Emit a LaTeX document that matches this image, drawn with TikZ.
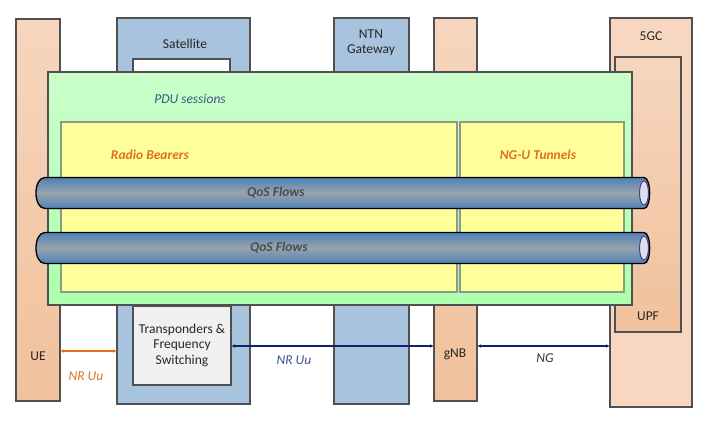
\documentclass[tikz,border=0pt]{standalone}
\usepackage{fontspec}
\setmainfont{Carlito}
\usetikzlibrary{arrows.meta,calc}
\definecolor{linegray}{HTML}{505050}
\definecolor{peachtop}{HTML}{F6D6BE}
\definecolor{peachbot}{HTML}{F0C19C}
\definecolor{peachlt}{HTML}{F7D7BF}
\definecolor{satblue}{HTML}{A7C3DD}
\definecolor{greentop}{HTML}{CBFFCB}
\definecolor{greenbot}{HTML}{ADFFAD}
\definecolor{yel}{HTML}{FFFF99}
\definecolor{yelline}{HTML}{8C9A8C}
\definecolor{pipeedge}{HTML}{4E82B8}
\definecolor{pipemid}{HTML}{98A3AC}
\definecolor{pipeopen}{HTML}{DCE0EE}
\definecolor{pipering}{HTML}{4A3C8C}
\definecolor{orangetxt}{HTML}{E0701E}
\definecolor{bluetxt}{HTML}{3C5488}
\definecolor{navy}{HTML}{0E2266}
\definecolor{transgray}{HTML}{F0F0F0}
\begin{document}
\begin{tikzpicture}[x=1pt,y=-1pt,
  box/.style={draw=linegray, line width=1.3pt, inner sep=0pt, anchor=north west, outer sep=0pt},
  lbl/.style={font=\fontsize{13.5}{15.5}\selectfont, text=black!85, align=center, inner sep=0pt},
  ital/.style={font=\fontsize{13.5}{15.5}\selectfont\itshape, inner sep=0pt},
  boldital/.style={font=\fontsize{13.5}{15.5}\selectfont\bfseries\itshape, inner sep=0pt},
  conn/.style={line width=1.3pt, {Latex[length=4pt,width=3.5pt]}-{Latex[length=4pt,width=3.5pt]}}
]
\useasboundingbox (0,0) rectangle (702,421);

% columns
\node[box, top color=peachtop, bottom color=peachbot, minimum width=44pt, minimum height=382pt] (ue) at (16,19) {};
\node[box, fill=satblue, minimum width=133pt, minimum height=386pt] (sat) at (117,18) {};
\node[box, fill=white, minimum width=97pt, minimum height=40pt] (satwin) at (133,59) {};
\node[box, fill=satblue, minimum width=75pt, minimum height=386pt] (ntn) at (334,18) {};
\node[box, top color=peachtop, bottom color=peachbot, minimum width=43pt, minimum height=383pt] (gnb) at (434,18) {};
\node[box, fill=peachlt, minimum width=82pt, minimum height=389pt] (fgc) at (610,18) {};
\node[box, top color=peachtop, bottom color=peachbot, minimum width=66pt, minimum height=275pt] (upf) at (615,57) {};

% PDU session box
\node[box, top color=greentop, bottom color=greenbot, minimum width=584pt, minimum height=233pt] (pdu) at (48,72) {};
\node[box, draw=yelline, fill=yel, line width=1.2pt, minimum width=396pt, minimum height=170pt] (rb) at (61,122) {};
\node[box, draw=yelline, fill=yel, line width=1.2pt, minimum width=164pt, minimum height=170pt] (ngu) at (460,122) {};

% transponder box
\node[box, fill=transgray, minimum width=98pt, minimum height=79pt] (trans) at (133,306) {};

% labels
\node[lbl] (satl) at (185,44) {Satellite};
\node[lbl] (ntnl) at (371,43) {NTN\\Gateway};
\node[lbl] (fgcl) at (651,36) {5GC};
\node[lbl] (uel) at (38,356) {UE};
\node[lbl] (gnbl) at (455,354) {gNB};
\node[lbl] (upfl) at (648,316) {UPF};
\node[lbl] (transl) at (182,345) {Transponders \&\\Frequency\\Switching};
\node[ital, text=bluetxt] (pdul) at (190,99) {PDU sessions};
\node[boldital, text=orangetxt] (rbl) at (150,155) {Radio Bearers};
\node[boldital, text=orangetxt] (ngul) at (538,155) {NG-U Tunnels};

% pipes
\foreach \y/\n/\lx in {193/qa/276, 248/qb/279}{
  \path[draw=black, line width=1.3pt, top color=pipeedge, bottom color=pipeedge, middle color=pipemid]
    (45,{\y-15.5}) -- (644,{\y-15.5})
    .. controls (651.5,{\y-15.5}) and (651.5,{\y+15.5}) .. (644,{\y+15.5})
    -- (45,{\y+15.5})
    .. controls (33,{\y+15.5}) and (33,{\y-15.5}) .. (45,{\y-15.5}) -- cycle;
  \draw[pipering, fill=pipeopen, line width=1pt] (644,\y) ellipse[x radius=4.5, y radius=12];
  \node[boldital, text=black!70] (\n) at (\lx,\y) {QoS Flows};
}

% connectors
\coordinate (ya) at (0,351);
\coordinate (yb) at (0,346);
\draw[conn, draw=orangetxt, color=orangetxt] (ue.east |- ya) -- (sat.west |- ya);
\draw[conn, draw=navy, color=navy] (trans.east |- yb) -- (gnb.west |- yb);
\draw[conn, draw=navy, color=navy] (gnb.east |- yb) -- (fgc.west |- yb);
\node[ital, text=orangetxt] (nr1) at (86,376) {NR Uu};
\node[ital, text=bluetxt] (nr2) at (294,360) {NR Uu};
\node[ital, text=black!80] (ngl) at (545,358) {NG};
\end{tikzpicture}
\end{document}
